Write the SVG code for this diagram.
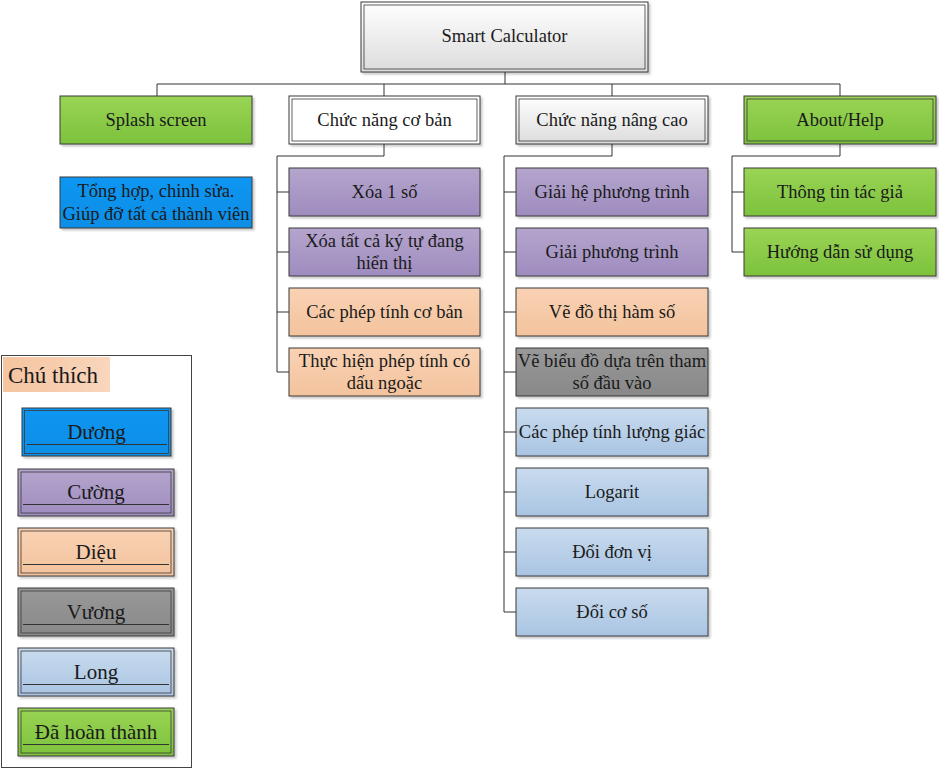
<svg xmlns="http://www.w3.org/2000/svg" width="939" height="771" viewBox="0 0 939 771">
<defs>
<linearGradient id="gWhite" x1="0" y1="0" x2="0" y2="1"><stop offset="0" stop-color="#ffffff"/><stop offset="1" stop-color="#dcdcdc"/></linearGradient>
<linearGradient id="gGreen" x1="0" y1="0" x2="0" y2="1"><stop offset="0" stop-color="#9ad455"/><stop offset="1" stop-color="#7cc23c"/></linearGradient>
<linearGradient id="gBlue" x1="0" y1="0" x2="0" y2="1"><stop offset="0" stop-color="#0b96f2"/><stop offset="1" stop-color="#0a8ee6"/></linearGradient>
<linearGradient id="gPurple" x1="0" y1="0" x2="0" y2="1"><stop offset="0" stop-color="#b4a5cd"/><stop offset="1" stop-color="#9f8cbf"/></linearGradient>
<linearGradient id="gPeach" x1="0" y1="0" x2="0" y2="1"><stop offset="0" stop-color="#f9d2b4"/><stop offset="1" stop-color="#f3c39d"/></linearGradient>
<linearGradient id="gGray" x1="0" y1="0" x2="0" y2="1"><stop offset="0" stop-color="#999999"/><stop offset="1" stop-color="#888888"/></linearGradient>
<linearGradient id="gLight" x1="0" y1="0" x2="0" y2="1"><stop offset="0" stop-color="#c9dbee"/><stop offset="1" stop-color="#a9c4e2"/></linearGradient>
<linearGradient id="gLabel" x1="0" y1="0" x2="1" y2="0"><stop offset="0" stop-color="#f5c4a0"/><stop offset="1" stop-color="#f9d6bc"/></linearGradient>
<filter id="sh" x="-5%" y="-10%" width="115%" height="130%"><feDropShadow dx="2" dy="2" stdDeviation="1.2" flood-color="#000" flood-opacity="0.22"/></filter>
</defs>
<style>
text{font-size:18.5px;fill:#1a1a1a;text-anchor:middle}
.lg{font-size:21px}
.box{stroke:#3a3a3a;stroke-width:1;filter:url(#sh)}
.in{fill:none;stroke:#3a3a3a;stroke-width:0.8}
.con{fill:none;stroke:#333;stroke-width:1}
.ul{stroke:#333;stroke-width:1}
</style>

<g id="connectors">
<path class="con" d="M505,72 V84 M157,84 H840 M157,84 V96 M384,84 V96 M612,84 V96 M840,84 V96"/>
<path class="con" d="M384,144 V156 H277 V372 M277,192 H289 M277,252 H289 M277,312 H289 M277,372 H289"/>
<path class="con" d="M612,144 V156 H504 V612 M504,192 H516 M504,252 H516 M504,312 H516 M504,372 H516 M504,432 H516 M504,492 H516 M504,552 H516 M504,612 H516"/>
<path class="con" d="M840,144 V156 H732 V252 M732,192 H744 M732,252 H744"/>
</g>

<g font-family="Liberation Serif, DejaVu Serif, serif">
<g id="root">
<rect class="box" x="361" y="2" width="287" height="70" fill="url(#gWhite)"/>
<rect class="in" x="364" y="5" width="281" height="64"/>
<text x="504.5" y="42">Smart Calculator</text>
</g>

<g id="splash">
<rect class="box" x="60" y="96" width="192" height="48" fill="url(#gGreen)"/>
<text x="156" y="126">Splash screen</text>
</g>
<g id="splash-note">
<rect class="box" x="60" y="177" width="192" height="51" fill="url(#gBlue)"/>
<text x="156" y="197">Tổng hợp, chinh sửa.</text>
<text x="156" y="220">Giúp đỡ tất cả thành viên</text>
</g>

<g id="basic">
<rect class="box" x="289" y="96" width="191" height="48" fill="#ffffff"/>
<rect class="in" x="292" y="99" width="185" height="42"/>
<text x="384.5" y="126">Chức năng cơ bản</text>
</g>
<g id="advanced">
<rect class="box" x="516" y="96" width="192" height="48" fill="url(#gWhite)"/>
<rect class="in" x="519" y="99" width="186" height="42"/>
<text x="612" y="126">Chức năng nâng cao</text>
</g>
<g id="about">
<rect class="box" x="744" y="96" width="192" height="48" fill="url(#gGreen)"/>
<rect class="in" x="747" y="99" width="186" height="42"/>
<text x="840" y="126">About/Help</text>
</g>

<g id="b1"><rect class="box" x="289" y="168" width="191" height="48" fill="url(#gPurple)"/><text x="384.5" y="198">Xóa 1 số</text></g>
<g id="b2"><rect class="box" x="289" y="228" width="191" height="48" fill="url(#gPurple)"/><text x="384.5" y="247">Xóa tất cả ký tự đang</text><text x="384.5" y="269">hiển thị</text></g>
<g id="b3"><rect class="box" x="289" y="288" width="191" height="48" fill="url(#gPeach)"/><text x="384.5" y="318">Các phép tính cơ bản</text></g>
<g id="b4"><rect class="box" x="289" y="348" width="191" height="48" fill="url(#gPeach)"/><text x="384.5" y="367">Thực hiện phép tính có</text><text x="384.5" y="389">dấu ngoặc</text></g>

<g id="a1"><rect class="box" x="516" y="168" width="192" height="48" fill="url(#gPurple)"/><text x="612" y="198">Giải hệ phương trình</text></g>
<g id="a2"><rect class="box" x="516" y="228" width="192" height="48" fill="url(#gPurple)"/><text x="612" y="258">Giải phương trình</text></g>
<g id="a3"><rect class="box" x="516" y="288" width="192" height="48" fill="url(#gPeach)"/><text x="612" y="318">Vẽ đồ thị hàm số</text></g>
<g id="a4"><rect class="box" x="516" y="348" width="192" height="48" fill="url(#gGray)"/><text x="612" y="367">Vẽ biểu đồ dựa trên tham</text><text x="612" y="389">số đầu vào</text></g>
<g id="a5"><rect class="box" x="516" y="408" width="192" height="48" fill="url(#gLight)"/><text x="612" y="438">Các phép tính lượng giác</text></g>
<g id="a6"><rect class="box" x="516" y="468" width="192" height="48" fill="url(#gLight)"/><text x="612" y="498">Logarit</text></g>
<g id="a7"><rect class="box" x="516" y="528" width="192" height="48" fill="url(#gLight)"/><text x="612" y="558">Đổi đơn vị</text></g>
<g id="a8"><rect class="box" x="516" y="588" width="192" height="48" fill="url(#gLight)"/><text x="612" y="618">Đổi cơ số</text></g>

<g id="h1"><rect class="box" x="744" y="168" width="192" height="48" fill="url(#gGreen)"/><text x="840" y="198">Thông tin tác giả</text></g>
<g id="h2"><rect class="box" x="744" y="228" width="192" height="48" fill="url(#gGreen)"/><text x="840" y="258">Hướng dẫn sử dụng</text></g>

<g id="legend">
<rect x="1.5" y="355.5" width="190" height="412" fill="#ffffff" stroke="#444" stroke-width="1"/>
<rect x="3" y="357" width="107" height="35" fill="url(#gLabel)"/>
<text x="8" y="383" style="text-anchor:start;font-size:23px">Chú thích</text>
</g>
<g id="lg-duong"><rect class="box" x="22" y="408" width="149" height="48" fill="url(#gBlue)"/><rect class="in" x="24.5" y="410.5" width="144" height="43"/><line class="ul" x1="27" y1="444.5" x2="167" y2="444.5"/><text class="lg" x="96.5" y="439">Dương</text></g>
<g id="lg-cuong"><rect class="box" x="18" y="469" width="156" height="47" fill="url(#gPurple)"/><rect class="in" x="21" y="472" width="150" height="41"/><line class="ul" x1="23" y1="504.5" x2="169" y2="504.5"/><text class="lg" x="96" y="499">Cường</text></g>
<g id="lg-dieu"><rect class="box" x="18" y="528" width="156" height="48" fill="url(#gPeach)"/><rect class="in" x="21" y="531" width="150" height="42"/><line class="ul" x1="23" y1="564.5" x2="169" y2="564.5"/><text class="lg" x="96" y="559">Diệu</text></g>
<g id="lg-vuong"><rect class="box" x="18" y="588" width="156" height="48" fill="url(#gGray)"/><rect class="in" x="21" y="591" width="150" height="42"/><line class="ul" x1="23" y1="624.5" x2="169" y2="624.5"/><text class="lg" x="96" y="619">Vương</text></g>
<g id="lg-long"><rect class="box" x="18" y="648" width="156" height="48" fill="url(#gLight)"/><rect class="in" x="21" y="651" width="150" height="42"/><line class="ul" x1="23" y1="684.5" x2="169" y2="684.5"/><text class="lg" x="96" y="679">Long</text></g>
<g id="lg-done"><rect class="box" x="18" y="708" width="156" height="48" fill="url(#gGreen)"/><rect class="in" x="21" y="711" width="150" height="42"/><line class="ul" x1="23" y1="744.5" x2="169" y2="744.5"/><text class="lg" x="96" y="739">Đã hoàn thành</text></g>
</g>
</svg>
